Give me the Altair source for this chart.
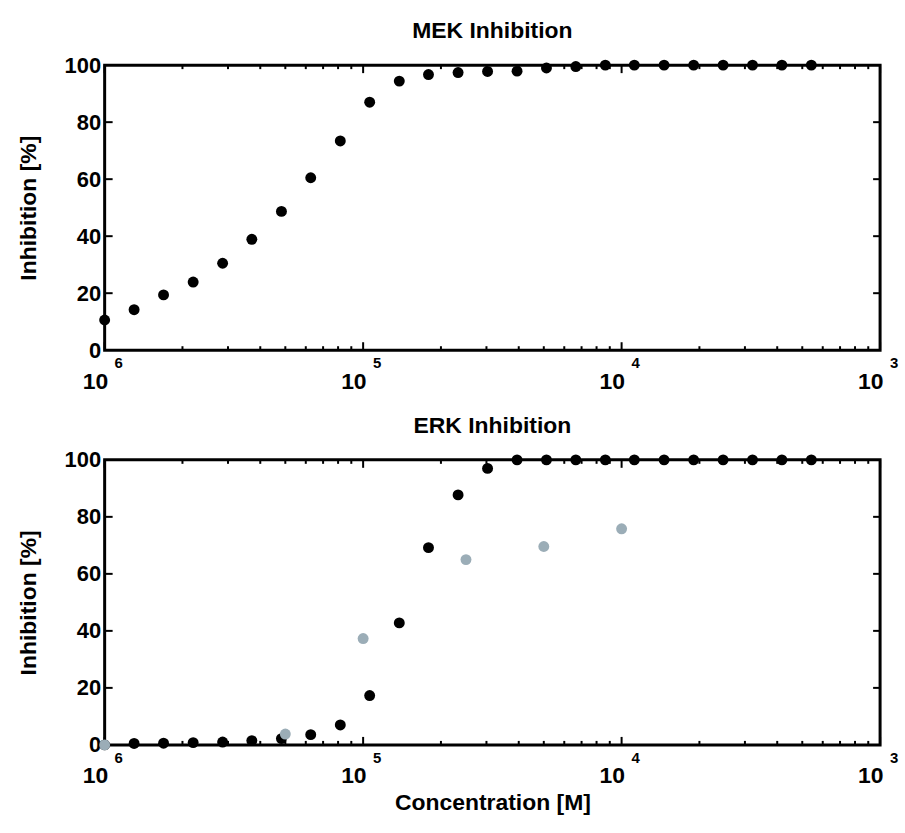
import altair as alt
import pandas as pd

# ---- data ----
conc = [1.00e-6, 1.30e-6, 1.69e-6, 2.20e-6, 2.86e-6, 3.71e-6, 4.83e-6, 6.27e-6, 8.16e-6,
        1.06e-5, 1.38e-5, 1.79e-5, 2.33e-5, 3.03e-5, 3.94e-5, 5.12e-5, 6.65e-5, 8.65e-5,
        1.12e-4, 1.46e-4, 1.90e-4, 2.47e-4, 3.21e-4, 4.17e-4, 5.42e-4]
mek = [10.6, 14.2, 19.4, 23.9, 30.5, 38.9, 48.7, 60.5, 73.4, 87.0, 94.4, 96.7, 97.4,
       97.8, 97.9, 99.0, 99.5, 100, 100, 100, 100, 100, 100, 100, 100]
erk = [0.0, 0.5, 0.6, 0.8, 1.0, 1.5, 2.2, 3.6, 7.0, 17.3, 42.8, 69.2, 87.7,
       97.0, 100, 100, 100, 100, 100, 100, 100, 100, 100, 100, 100]
grey_conc = [1e-6, 5e-6, 1e-5, 2.5e-5, 5e-5, 1e-4]
grey_erk = [0.0, 3.8, 37.3, 65.0, 69.6, 75.8]

major_x = [1e-6, 1e-5, 1e-4, 1e-3]
exponents = ["6", "5", "4", "3"]
minor_x = [m * d for d in (1e-6, 1e-5, 1e-4) for m in range(2, 10)]
y_ticks = [0, 20, 40, 60, 80, 100]
y_inner = [20, 40, 60, 80]

W, H = 778, 286
FONT = "Liberation Sans"
GREY = "#9badb7"

xs = alt.Scale(type="log", domain=[1e-6, 1e-3], nice=False)
ys = alt.Scale(domain=[0, 100], nice=False)


def panel(title, black_vals, grey=None, xtitle=None):
    xaxis = alt.Axis(values=major_x, ticks=False, domain=False, grid=False,
                     labelPadding=38, labelBaseline="alphabetic", labelAlign="right",
                     labelOffset=3, labelFlush=False, labelFontSize=23,
                     labelExpr="'10'", titlePadding=4)
    yaxis = alt.Axis(values=y_ticks, ticks=False, domain=False, grid=False,
                     labelPadding=4, titlePadding=24)
    xenc = alt.X("x:Q", scale=xs, axis=xaxis, title=xtitle)
    yenc = alt.Y("y:Q", scale=ys, axis=yaxis, title="Inhibition [%]")

    df_major = pd.DataFrame({"x": major_x, "e": exponents})
    df_minor = pd.DataFrame({"x": minor_x})
    df_y = pd.DataFrame({"y": y_inner})

    rule = dict(color="black", strokeWidth=2)
    layers = [
        alt.Chart(df_major).mark_rule(**rule).encode(x=xenc, y=alt.value(H), y2=alt.value(H - 8)),
        alt.Chart(df_major).mark_rule(**rule).encode(x=xenc, y=alt.value(0), y2=alt.value(8)),
        alt.Chart(df_minor).mark_rule(**rule).encode(x=xenc, y=alt.value(H), y2=alt.value(H - 4)),
        alt.Chart(df_minor).mark_rule(**rule).encode(x=xenc, y=alt.value(0), y2=alt.value(4)),
        alt.Chart(df_y).mark_rule(**rule).encode(y=yenc, x=alt.value(0), x2=alt.value(8)),
        alt.Chart(df_y).mark_rule(**rule).encode(y=yenc, x=alt.value(W), x2=alt.value(W - 7)),
        alt.Chart(df_major).mark_text(
            align="left", baseline="alphabetic", dx=10, font=FONT, fontSize=15,
            fontWeight="bold", color="black").encode(x=xenc, y=alt.value(H + 18), text="e:N"),
        alt.Chart(pd.DataFrame({"x": conc, "y": black_vals})).mark_circle(
            size=120, opacity=1, color="black").encode(x=xenc, y=yenc),
    ]
    if grey is not None:
        layers.append(
            alt.Chart(pd.DataFrame({"x": grey[0], "y": grey[1]})).mark_circle(
                size=120, opacity=1, color=GREY).encode(x=xenc, y=yenc))
    return alt.layer(*layers).properties(
        width=W, height=H,
        title=alt.TitleParams(title, font=FONT, fontSize=23, fontWeight="bold",
                              color="black", offset=11, anchor="middle"),
    )


top = panel("MEK Inhibition", mek)
bottom = panel("ERK Inhibition", erk, grey=(grey_conc, grey_erk), xtitle="Concentration [M]")

chart = alt.vconcat(top, bottom, spacing=18).properties(
    padding={"left": 15, "top": 17, "right": 5, "bottom": 5},
    background="white",
).configure_view(
    stroke="black", strokeWidth=3
).configure_axis(
    labelFont=FONT, labelFontSize=22, labelFontWeight="bold", labelColor="black",
    titleFont=FONT, titleFontSize=23, titleFontWeight="bold", titleColor="black",
)

chart.save("out.html", embed_options={"renderer": "svg", "actions": False})
